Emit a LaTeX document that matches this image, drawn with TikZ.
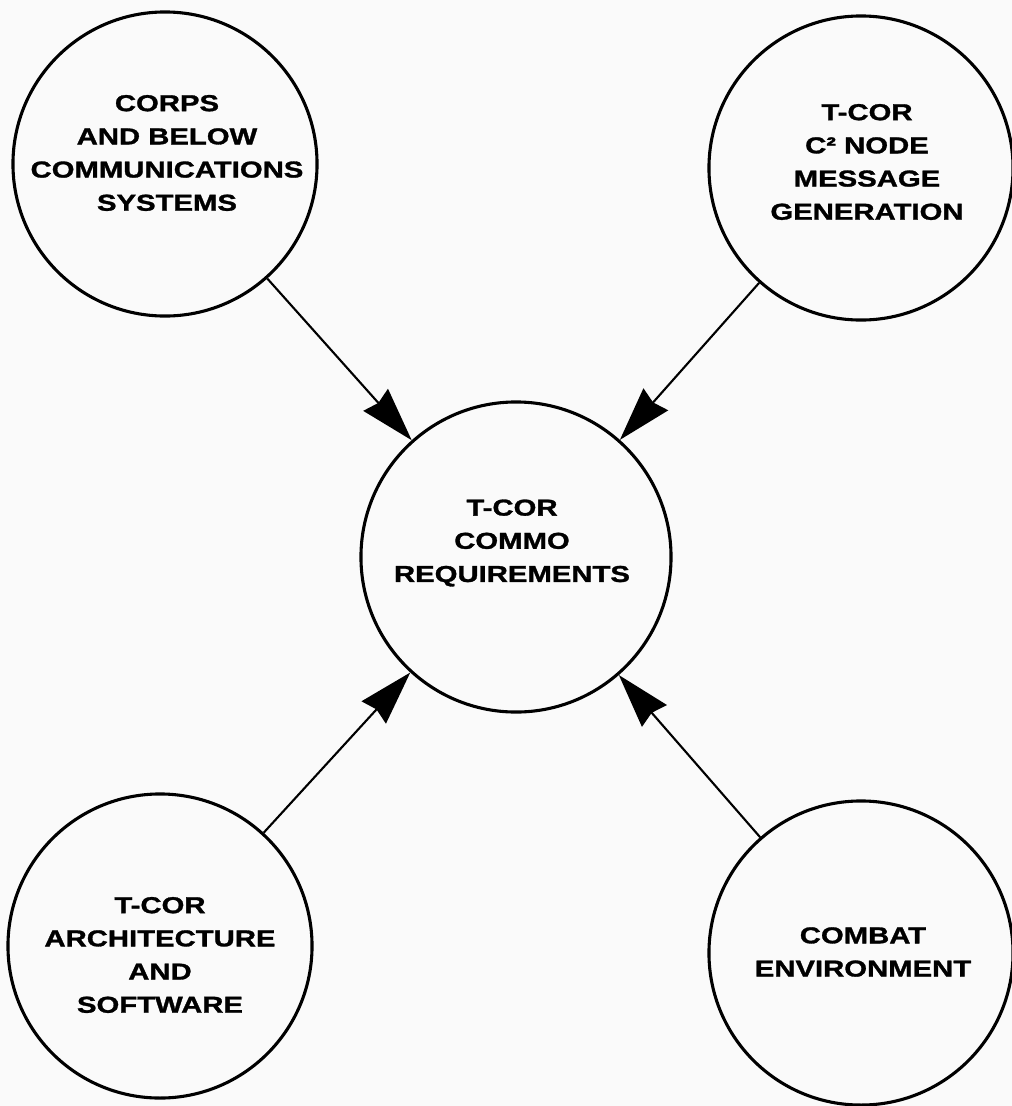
\documentclass[tikz,border=0pt]{standalone}
\usepackage{fontspec}
\newfontfamily\lblfont{Liberation Sans}[FakeStretch=1.27, BoldFeatures={FakeBold=1.3}]
\usetikzlibrary{arrows.meta}
\tikzset{
  bubble/.style={circle, draw=black, line width=2.2pt, minimum size=7.6cm, inner sep=0pt},
  hub/.style={bubble, minimum size=7.75cm},
  lbl/.style={align=center, inner sep=0pt, font=\lblfont\bfseries\fontsize{16.4}{23.6}\selectfont},
  feed/.style={line width=1.5pt, -{Stealth[length=1.35cm, width=0.82cm, inset=0.1cm]}, shorten >=0pt}
}
\begin{document}
\begin{tikzpicture}[x=0.025cm, y=-0.025cm]
  \path[fill=black!2, use as bounding box] (0,0) rectangle (1012,1106);
  % circles
  \node[bubble] (tl) at (165,164) {};
  \node[bubble] (tr) at (861,168) {};
  \node[bubble] (bl) at (160,946) {};
  \node[bubble] (br) at (861,953) {};
  \node[hub] (c) at (516,557) {};
  % texts
  \node[lbl] (tltext) at (167,153) {CORPS\\AND BELOW\\COMMUNICATIONS\\SYSTEMS};
  \node[lbl] (trtext) at (867,162) {T-COR\\C² NODE\\MESSAGE\\GENERATION};
  \node[lbl] (ctext) at (512,543) {T-COR\\COMMO\\REQUIREMENTS};
  \node[lbl] (bltext) at (160,955) {T-COR\\ARCHITECTURE\\AND\\SOFTWARE};
  \node[lbl] (brtext) at (863,952) {COMBAT\\ENVIRONMENT};
  % connectors
  \draw[feed] (tl) -- (c);
  \draw[feed] (tr) -- (c);
  \draw[feed] (bl) -- (c);
  \draw[feed] (br) -- (c);
\end{tikzpicture}
\end{document}
